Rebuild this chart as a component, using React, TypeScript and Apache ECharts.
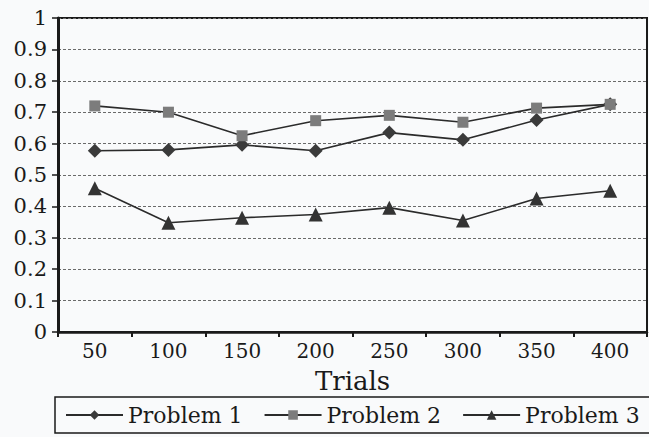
import React, { useEffect, useRef } from "react";
import * as echarts from "echarts";

const categories = ["50", "100", "150", "200", "250", "300", "350", "400"];
const problem1 = [0.577, 0.58, 0.596, 0.577, 0.635, 0.612, 0.675, 0.725];
const problem2 = [0.72, 0.7, 0.625, 0.673, 0.69, 0.668, 0.713, 0.725];
const problem3 = [0.458, 0.348, 0.364, 0.374, 0.396, 0.355, 0.425, 0.45];
const seriesNames = ["Problem 1", "Problem 2", "Problem 3"];

const FONT = "DejaVu Serif";

export default function App() {
  const ref = useRef<HTMLDivElement>(null);
  useEffect(() => {
    if (!ref.current) return;
    const chart = echarts.init(ref.current, null, { renderer: "svg" });
    const lineStyle = { color: "#2b2b2b", width: 1.6 };
    chart.setOption({
      animation: false,
      backgroundColor: "#f9fafb",
      grid: {
        left: 58,
        right: 2,
        top: 18,
        bottom: 105,
        show: true,
        borderColor: "#1a1a1a",
        borderWidth: 2,
      },
      xAxis: {
        type: "category",
        data: categories,
        boundaryGap: true,
        name: "Trials",
        nameLocation: "middle",
        nameGap: 36,
        nameTextStyle: { fontFamily: FONT, fontSize: 26, color: "#1a1a1a" },
        axisLine: { lineStyle: { color: "#1a1a1a", width: 2.5 } },
        axisTick: { show: true, length: 5, lineStyle: { color: "#1a1a1a", width: 2 } },
        axisLabel: { fontFamily: FONT, fontSize: 20, color: "#1a1a1a", margin: 9 },
      },
      yAxis: {
        type: "value",
        min: 0,
        max: 1,
        interval: 0.1,
        axisLine: { show: true, lineStyle: { color: "#1a1a1a", width: 3 } },
        axisTick: { show: true, length: 6, lineStyle: { color: "#1a1a1a", width: 1.5 } },
        axisLabel: { fontFamily: FONT, fontSize: 21, color: "#1a1a1a", margin: 11 },
        splitLine: { lineStyle: { color: "#6a6a6a", width: 1, type: [3, 2] } },
      },
      legend: {
        data: seriesNames,
        left: 65,
        top: 404,
        padding: 0,
        itemWidth: 57,
        itemHeight: 12,
        itemGap: 21,
        textStyle: { fontFamily: FONT, fontSize: 22, color: "#1a1a1a" },
      },
      graphic: [
        {
          type: "rect",
          shape: { x: 55, y: 397, width: 600, height: 36 },
          style: { fill: "none", stroke: "#1a1a1a", lineWidth: 1.5 },
        },
      ],
      series: [
        {
          name: seriesNames[0],
          type: "line",
          data: problem1,
          symbol: "diamond",
          symbolSize: 14,
          lineStyle,
          itemStyle: { color: "#3a3a3a" },
        },
        {
          name: seriesNames[1],
          type: "line",
          data: problem2,
          symbol: "rect",
          symbolSize: 11,
          lineStyle,
          itemStyle: { color: "#7c7c7c" },
        },
        {
          name: seriesNames[2],
          type: "line",
          data: problem3,
          symbol: "triangle",
          symbolSize: 14,
          lineStyle,
          itemStyle: { color: "#333333" },
        },
      ],
    });
    return () => chart.dispose();
  }, []);
  return (
    <div
      ref={ref}
      style={{ position: "absolute", left: 0, top: 0, width: 649, height: 437 }}
    />
  );
}
